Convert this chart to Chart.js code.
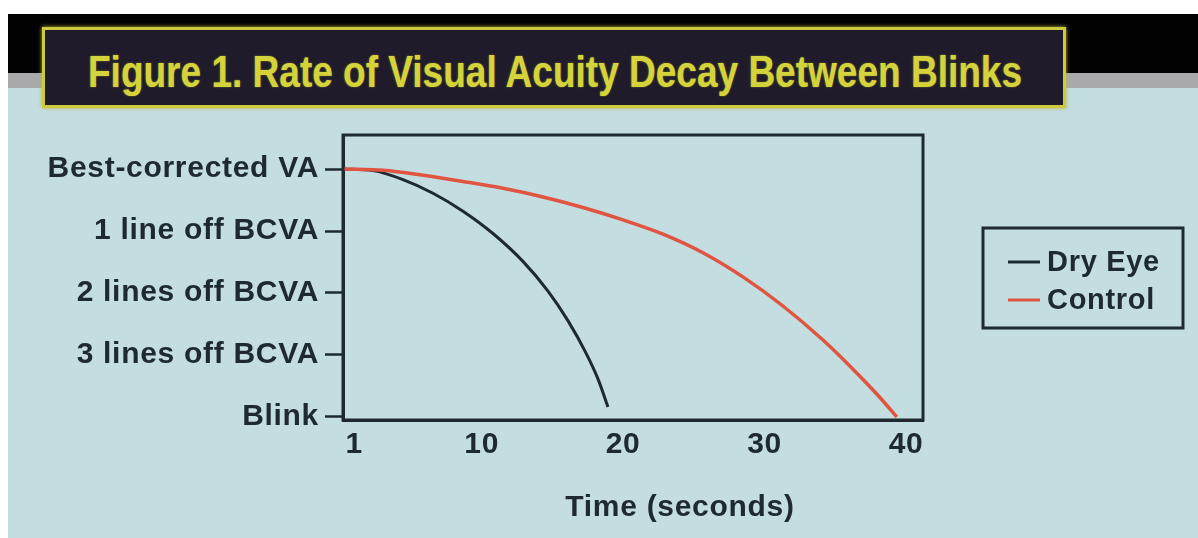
<!DOCTYPE html>
<html><head><meta charset="utf-8">
<script src="https://cdn.jsdelivr.net/npm/chart.js@4"></script>
<style>
html,body{margin:0;padding:0;background:#fff;width:1198px;height:538px;overflow:hidden;position:relative;}
#blue{position:absolute;left:8px;top:88px;width:1190px;height:450px;background:#c4dde1;}
#black{position:absolute;left:8px;top:14px;width:1190px;height:59px;background:#030203;}
#gray{position:absolute;left:8px;top:73px;width:1190px;height:15px;background:#a9a9ac;}
#tbox{position:absolute;left:42px;top:27px;width:1018px;height:75px;border:3px solid #cdca3e;background:#1f1b2b;box-shadow:0 0 4px #b8b640;}
#title{position:absolute;left:88px;top:50px;font-family:"Liberation Sans",Arial,sans-serif;font-weight:bold;font-size:44px;line-height:44px;color:#d5d33c;white-space:nowrap;transform-origin:0 0;text-shadow:0 0 2px #8c8a2a;}
canvas{position:absolute;left:0;top:0;}
</style></head>
<body>
<div id="blue"></div><div id="black"></div><div id="gray"></div><div id="tbox"></div>
<div id="title">Figure 1. Rate of Visual Acuity Decay Between Blinks</div>
<canvas id="c" width="1198" height="538"></canvas>
<script>
const timeTicks = [1, 10, 20, 30, 40];
const vaLevels = [0, 1, 2, 3, 4];
const vaLabels = ['Blink', '3 lines off BCVA', '2 lines off BCVA', '1 line off BCVA', 'Best-corrected VA'];
const seriesNames = ['Dry Eye', 'Control'];
const dryEyeTime = [0.2, 2.32, 4.44, 6.56, 8.68, 10.80, 12.92, 14.69, 16.11, 17.38, 18.23, 18.93];
const dryEyeVA   = [4.0, 3.975, 3.83, 3.61, 3.32, 2.96, 2.51, 2.03, 1.55, 1.03, 0.61, 0.16];
const controlTime = [0.2, 3.03, 5.85, 8.68, 11.51, 14.34, 17.16, 19.99, 22.82, 25.64, 28.47, 31.30, 34.13, 36.25, 38.01, 39.35];
const controlVA   = [4.0, 3.98, 3.90, 3.80, 3.69, 3.55, 3.38, 3.18, 2.95, 2.65, 2.26, 1.79, 1.24, 0.77, 0.35, 0.0];
const xTitle = 'Time (seconds)';

const ink = '#1d2a30';
const red = '#df5540';
const FONT = {family: '"Liberation Sans", Arial, sans-serif', size: 30, weight: 'bold'};
const LS = '0.7px';

// fit title width
const t = document.getElementById('title');
const w = t.getBoundingClientRect().width;
t.style.transform = 'scaleX(' + (934 / w) + ')';

const pts = (xs, ys) => xs.map((x, i) => ({x, y: ys[i]}));

const spacing = {
  id: 'spacing',
  beforeLayout(chart) { chart.ctx.letterSpacing = LS; },
  beforeDraw(chart) { chart.ctx.letterSpacing = LS; }
};
const frame = {
  id: 'frame',
  afterDatasetsDraw(chart) {
    const {ctx, chartArea: a} = chart;
    ctx.save();
    ctx.strokeStyle = ink; ctx.lineWidth = 3;
    ctx.strokeRect(a.left, a.top, a.right - a.left, a.bottom - a.top);
    ctx.restore();
  }
};
const extras = {
  id: 'extras',
  afterDraw(chart) {
    const ctx = chart.ctx;
    ctx.save();
    ctx.letterSpacing = LS;
    ctx.font = 'bold 30px "Liberation Sans", Arial, sans-serif';
    ctx.fillStyle = ink;
    ctx.textAlign = 'center'; ctx.textBaseline = 'middle';
    ctx.fillText(xTitle, 680, 508);
    // legend
    ctx.strokeStyle = ink; ctx.lineWidth = 3;
    ctx.strokeRect(983, 228, 200, 100);
    ctx.textAlign = 'left';
    ctx.font = 'bold 29px "Liberation Sans", Arial, sans-serif';
    chart.data.datasets.forEach((ds, i) => {
      const y = 262 + i * 38;
      ctx.strokeStyle = ds.borderColor; ctx.lineWidth = 3;
      ctx.beginPath(); ctx.moveTo(1008, y); ctx.lineTo(1040, y); ctx.stroke();
      ctx.fillStyle = ink;
      ctx.fillText(ds.label, 1047, y + 1);
    });
    ctx.restore();
  }
};

new Chart(document.getElementById('c'), {
  type: 'line',
  data: {
    datasets: [
      {label: seriesNames[0], data: pts(dryEyeTime, dryEyeVA), borderColor: ink, borderWidth: 3, pointRadius: 0, cubicInterpolationMode: 'monotone', order: 1},
      {label: seriesNames[1], data: pts(controlTime, controlVA), borderColor: red, borderWidth: 3.5, pointRadius: 0, cubicInterpolationMode: 'monotone', order: 0}
    ]
  },
  options: {
    responsive: false,
    animation: false,
    events: [],
    layout: {padding: {left: 0, right: 275, top: 135, bottom: 10}},
    plugins: {legend: {display: false}, tooltip: {enabled: false}, title: {display: false}},
    scales: {
      x: {
        type: 'linear', min: 0.2, max: 41.2,
        afterBuildTicks: s => { s.ticks = timeTicks.map(v => ({value: v})); },
        afterFit: s => { s.height = 108; },
        grid: {display: false, drawTicks: false},
        border: {display: true, color: ink, width: 3},
        ticks: {color: ink, font: FONT, padding: 7, maxRotation: 0, autoSkip: false}
      },
      y: {
        type: 'linear', min: -0.05, max: 4.55,
        afterBuildTicks: s => { s.ticks = vaLevels.map(v => ({value: v})); },
        afterFit: s => { s.width = 343; },
        grid: {drawOnChartArea: false, tickLength: 18, tickWidth: 2.5, tickColor: ink, color: ink},
        border: {display: true, color: ink, width: 3},
        ticks: {color: ink, font: FONT, padding: 6, autoSkip: false, callback: v => vaLabels[vaLevels.indexOf(v)]}
      }
    }
  },
  plugins: [spacing, frame, extras]
});
</script>
</body></html>
